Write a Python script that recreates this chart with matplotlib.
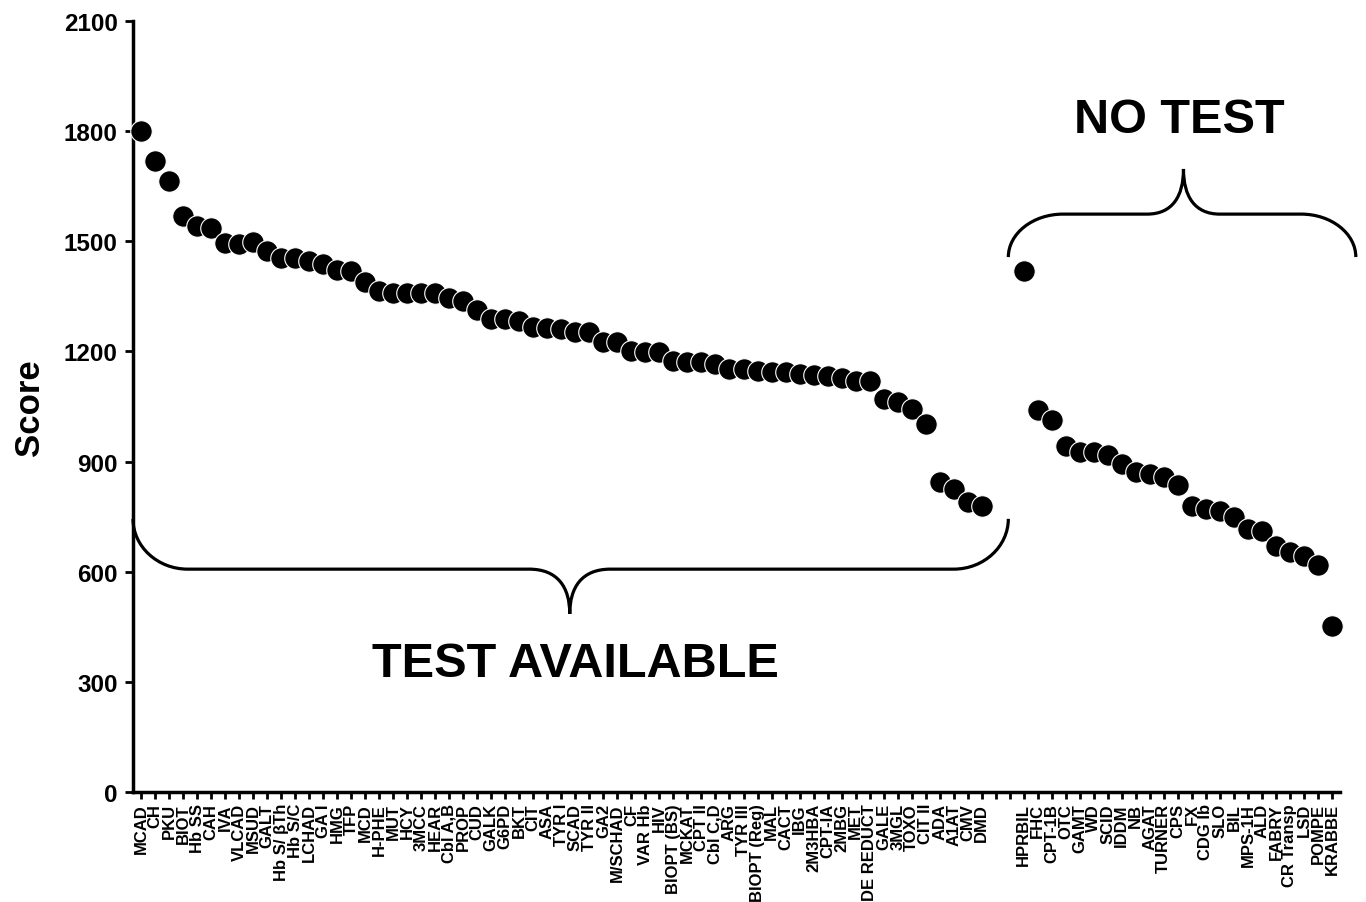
import matplotlib.pyplot as plt
from matplotlib.path import Path
import matplotlib.patches as patches

plt.rcParams['font.family'] = ['Liberation Sans', 'DejaVu Sans']
plt.rcParams['font.weight'] = 'bold'

# tests available (sorted by score)
test_labels = ["MCAD", "CH", "PKU", "BIOT", "Hb SS", "CAH", "IVA", "VLCAD", "MSUD", "GALT",
               "Hb S/ βTh", "Hb S/C", "LCHAD", "GA I", "HMG", "TFP", "MCD", "H-PHE", "MUT", "HCY",
               "3MCC", "HEAR", "Cbl A,B", "PROP", "CUD", "GALK", "G6PD", "BKT", "CIT", "ASA",
               "TYR I", "SCAD", "TYR II", "GA2", "M/SCHAD", "CF", "VAR Hb", "HIV", "BIOPT (BS)", "MCKAT",
               "CPT II", "Cbl C,D", "ARG", "TYR III", "BIOPT (Reg)", "MAL", "CACT", "IBG", "2M3HBA", "CPT-IA",
               "2MBG", "MET", "DE REDUCT", "GALE", "3MGL", "TOXO", "CIT II", "ADA", "A1AT", "CMV", "DMD"]
test_scores = [1800, 1719, 1664, 1569, 1542, 1536, 1495, 1493, 1498, 1474,
               1455, 1455, 1447, 1438, 1422, 1419, 1389, 1365, 1359, 1359,
               1359, 1359, 1346, 1338, 1313, 1288, 1288, 1283, 1267, 1264,
               1261, 1253, 1253, 1226, 1226, 1201, 1199, 1199, 1174, 1171,
               1171, 1166, 1152, 1152, 1147, 1144, 1144, 1139, 1136, 1133,
               1128, 1120, 1120, 1071, 1062, 1043, 1002, 844, 825, 790, 779]

# no test available
notest_labels = ["HPRBIL", "FHC", "CPT-1B", "OTC", "GAMT", "WD", "SCID", "IDDM", "NB", "AGAT",
                 "TURNER", "CPS", "FX", "CDG Ib", "SLO", "BIL", "MPS-1H", "ALD", "FABRY", "CR Transp",
                 "LSD", "POMPE", "KRABBE"]
notest_scores = [1419, 1041, 1013, 943, 926, 926, 918, 893, 872, 866,
                 858, 836, 779, 771, 765, 749, 716, 711, 670, 654,
                 643, 618, 452]

gap = 2  # empty slots between the two groups
x_test = list(range(len(test_labels)))
x_notest = [len(test_labels) + gap + i for i in range(len(notest_labels))]
tick_pos = list(range(len(test_labels) + gap + len(notest_labels)))
tick_lab = test_labels + [""] * gap + notest_labels

fig = plt.figure(figsize=(13.66, 9.03), dpi=100)
ax = fig.add_axes([133 / 1366, 1 - 793 / 903, (1340 - 133) / 1366, (793 - 22) / 903])

for xs, ys in [(x_test, test_scores), (x_notest, notest_scores)]:
    ax.plot(xs, ys, 'o', color='black', markersize=15.5, markeredgecolor='white',
            markeredgewidth=0.8, clip_on=False, zorder=3)

ax.set_xlim(-0.57, tick_pos[-1] + 0.57)
ax.set_ylim(0, 2100)
ax.set_yticks(range(0, 2101, 300))
ax.set_xticks(tick_pos)
ax.set_xticklabels(tick_lab, rotation=90, fontsize=12, fontweight='bold')
ax.tick_params(axis='y', labelsize=17.5, width=2, length=6, pad=5)
ax.tick_params(axis='x', width=2, length=5, pad=3)
for s in ['top', 'right']:
    ax.spines[s].set_visible(False)
for s in ['left', 'bottom']:
    ax.spines[s].set_linewidth(2.5)

fig.text(30 / 1366, 1 - 408 / 903, 'Score', rotation=90, ha='center', va='center',
         fontsize=25, fontweight='bold')


def brace(ax, xl, xr, xt, y_end, y_bar, y_tip, rx, tw):
    k = 0.55
    verts = [
        (xl, y_end),
        (xl, y_end + k * (y_bar - y_end)), (xl + rx * (1 - k), y_bar), (xl + rx, y_bar),
        (xt - tw, y_bar),
        (xt - tw * 0.3, y_bar), (xt, y_bar + 0.4 * (y_tip - y_bar)), (xt, y_tip),
        (xt, y_bar + 0.4 * (y_tip - y_bar)), (xt + tw * 0.3, y_bar), (xt + tw, y_bar),
        (xr - rx, y_bar),
        (xr - rx * (1 - k), y_bar), (xr, y_end + k * (y_bar - y_end)), (xr, y_end),
    ]
    codes = [Path.MOVETO,
             Path.CURVE4, Path.CURVE4, Path.CURVE4,
             Path.LINETO,
             Path.CURVE4, Path.CURVE4, Path.CURVE4,
             Path.CURVE4, Path.CURVE4, Path.CURVE4,
             Path.LINETO,
             Path.CURVE4, Path.CURVE4, Path.CURVE4]
    ax.add_patch(patches.PathPatch(Path(verts, codes), fill=False, lw=2.3,
                                   edgecolor='black', clip_on=False))


brace(ax, -0.57, 61.9, 30.6, 744, 607, 485, 3.9, 2.9)
brace(ax, 61.9, 86.7, 74.4, 1457, 1574, 1697, 3.9, 2.6)

ax.text(31.0, 349, 'TEST AVAILABLE', ha='center', va='center', fontsize=35, fontweight='bold')
ax.text(74.1, 1833, 'NO TEST', ha='center', va='center', fontsize=35, fontweight='bold')

fig.savefig('out.png', dpi=100)
